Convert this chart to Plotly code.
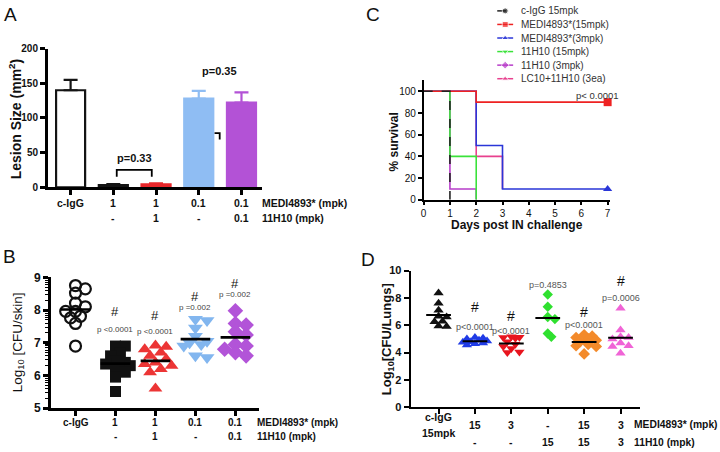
import plotly.graph_objects as go
import numpy as np

W, H = 720, 452
FONT = "Liberation Sans, Arial, sans-serif"

# ================= DATA =================
# ---- Panel A: lesion size (mean + SEM)
a_row1 = ["c-IgG", "1", "1", "0.1", "0.1"]
a_row2 = ["", "-", "1", "-", "0.1"]
a_lesion_mean = [140, 3, 4, 128, 122]
a_lesion_sem = [15, 1.5, 1.5, 11, 15]
a_p_left = "p=0.33"
a_p_right = "p=0.35"

# ---- Panel B: Log10 CFU/skin
b_row1 = ["c-IgG", "1", "1", "0.1", "0.1"]
b_row2 = ["", "-", "1", "-", "0.1"]
b_cigg = [8.75, 8.65, 8.52, 8.21, 8.10, 7.96, 7.96, 7.81, 7.76, 7.59, 6.90]
b_medi_1 = [6.90, 6.90, 6.70, 6.60, 6.45, 6.40, 6.35, 6.30, 6.20, 6.10, 5.95, 5.51]
b_combo_1 = [6.92, 6.88, 6.80, 6.70, 6.60, 6.50, 6.40, 6.35, 6.30, 6.20, 6.10, 5.60]
b_medi_01 = [7.72, 7.68, 7.45, 7.20, 7.05, 7.00, 6.95, 6.90, 6.60, 6.55]
b_combo_01 = [7.98, 7.59, 7.54, 7.34, 7.24, 6.95, 6.90, 6.80, 6.70, 6.60]
b_pvals = ["", "p <0.0001", "p <0.0001", "p =0.002", "p =0.002"]
b_hash = ["", "#", "#", "#", "#"]

# ---- Panel C: survival
c_names = ["c-IgG 15mpk", "MEDI4893*(15mpk)", "MEDI4893*(3mpk)",
           "11H10 (15mpk)", "11H10 (3mpk)", "LC10+11H10 (3ea)"]
c_igg_days, c_igg_surv = [0, 1], [100, 0]
c_medi15_days, c_medi15_surv = [0, 2, 7], [100, 90, 90]
c_medi3_days, c_medi3_surv = [0, 2, 3, 7], [100, 50, 10, 10]
c_h15_days, c_h15_surv = [0, 1, 2], [100, 40, 0]
c_h3_days, c_h3_surv = [0, 1, 2], [100, 10, 0]
c_lc_days, c_lc_surv = [0, 2, 3], [100, 40, 10]
c_pval = "p< 0.0001"

# ---- Panel D: Log10 CFU/lungs
d_row1 = ["c-IgG", "15", "3", "-", "15", "3"]
d_row2 = ["15mpk", "-", "-", "15", "15", "3"]
d_cigg = [8.35, 7.60, 7.10, 6.65, 6.60, 6.30, 6.25, 5.95, 5.90]
d_medi15 = [5.10, 5.05, 5.00, 4.90, 4.85, 4.80, 4.75, 4.70, 4.65, 4.55]
d_medi3 = [5.15, 5.12, 5.10, 5.05, 4.80, 4.60, 4.45, 4.30, 4.05, 4.00]
d_h15 = [8.25, 7.35, 6.60, 6.45, 5.40, 5.15]
d_combo15 = [5.30, 5.20, 5.10, 5.00, 4.90, 4.80, 4.60, 4.50, 4.45, 3.90]
d_combo3 = [7.25, 5.65, 5.15, 5.10, 5.00, 4.70, 4.50, 4.45, 3.95]
d_pvals = ["", "p<0.0001", "p<0.0001", "p=0.4853", "p<0.0001", "p=0.0006"]
d_hash = ["", "#", "#", "", "#", "#"]

# ================= STYLES / LAYOUT CONSTANTS =================
a_fill = ["white", "#141414", "#e8262a", "#8fbdf3", "#b352d6"]
a_edge = ["#141414", "#141414", "#e8262a", "#8fbdf3", "#b352d6"]

b_groups = [b_cigg, b_medi_1, b_combo_1, b_medi_01, b_combo_01]
b_sym = ["circle-open", "square", "triangle-up", "triangle-down", "diamond"]
b_col = ["#111111", "#111111", "#ec3535", "#82b6ef", "#b254d8"]
b_size = [11, 11, 12, 13, 12]
b_hash_y = [0, 7.96, 7.84, 8.41, 8.82]
b_p_y = [0, 7.40, 7.34, 8.08, 8.47]

c_series = [
    (c_lc_days, c_lc_surv, "#e8408e", "triangle-up"),
    (c_h3_days, c_h3_surv, "#b73cc9", "diamond"),
    (c_h15_days, c_h15_surv, "#3ae23a", "triangle-down"),
    (c_medi3_days, c_medi3_surv, "#2a36d8", "triangle-up"),
    (c_medi15_days, c_medi15_surv, "#ee2222", "square"),
    (c_igg_days, c_igg_surv, "#222222", "circle"),
]
c_leg_col = ["#222222", "#ee2222", "#2a36d8", "#3ae23a", "#b73cc9", "#e8408e"]
c_leg_sym = ["circle", "square", "triangle-up", "triangle-down", "diamond", "triangle-up"]

d_groups = [d_cigg, d_medi15, d_medi3, d_h15, d_combo15, d_combo3]
d_sym = ["triangle-up", "triangle-up", "triangle-down", "diamond", "diamond", "triangle-up"]
d_col = ["#111111", "#1f3be6", "#e8141e", "#2fe02f", "#f38a2a", "#f064d6"]
d_size = [9, 9, 9, 8, 9, 9]
d_hash_y = [0, 7.3, 6.7, 0, 6.95, 9.22]
d_p_y = [0, 5.9, 5.6, 8.96, 6.03, 8.01]


def xdom(p0, p1):
    return [p0 / W, p1 / W]


def ydom(top, bottom):
    return [1 - bottom / H, 1 - top / H]


def px(x):
    return x / W


def py(y):
    return 1 - y / H


def swarm(vals, sx, sy, diam, maxoff):
    """simple beeswarm offsets (in x data units), overlapping allowed"""
    placed, offs = [], []
    step = diam * 0.45
    cands = [0.0]
    i = 1
    while i * step <= maxoff:
        cands += [i * step, -i * step]
        i += 1
    for v in vals:
        y = v * sy
        best, bestd = 0.0, -1
        for c in cands:
            d = min([((c - a) ** 2 + (y - b) ** 2) ** 0.5 for a, b in placed] or [1e9])
            if d >= diam * 0.62:
                best = c
                break
            if d > bestd:
                best, bestd = c, d
        placed.append((best, y))
        offs.append(best / sx)
    return offs


fig = go.Figure()


def axstyle(lw, bold=True, size=10, ticklen=5):
    return dict(showline=True, linecolor="black", linewidth=lw, ticks="outside",
                tickcolor="black", tickwidth=lw, ticklen=ticklen, showgrid=False,
                zeroline=False, fixedrange=True,
                tickfont=dict(family=FONT, size=size, color="#111",
                              weight="bold" if bold else "normal"))


# ---------------- Panel A ----------------
for i, (m, s) in enumerate(zip(a_lesion_mean, a_lesion_sem)):
    fig.add_trace(go.Bar(
        x=[i], y=[m], width=0.68, xaxis="x", yaxis="y",
        marker=dict(color=a_fill[i], line=dict(color=a_edge[i], width=2.2)),
        error_y=dict(type="data", array=[s], arrayminus=[0], symmetric=False,
                     color=a_edge[i], thickness=2.2, width=7),
        showlegend=False, hoverinfo="skip"))

# ---------------- Panel B ----------------
B_SX, B_SY = 40.2, 33.75
for i, g in enumerate(b_groups):
    offs = swarm(g, B_SX, B_SY, b_size[i], 17)
    fig.add_trace(go.Scatter(
        x=[i + o for o in offs], y=g, mode="markers", xaxis="x2", yaxis="y2",
        marker=dict(symbol=b_sym[i], size=b_size[i], color=b_col[i],
                    line=dict(color=b_col[i], width=2.2 if i == 0 else 0)),
        cliponaxis=False, showlegend=False, hoverinfo="skip"))
for i, g in enumerate(b_groups):
    m = float(np.mean(g))
    fig.add_trace(go.Scatter(
        x=[i - 0.37, i + 0.37], y=[m, m], mode="lines", xaxis="x2", yaxis="y2",
        line=dict(color="black", width=2.6), showlegend=False, hoverinfo="skip"))

# ---------------- Panel C ----------------
for days, surv, col, sym in c_series:
    dash = "dash" if col == "#222222" else "solid"
    fig.add_trace(go.Scatter(
        x=days, y=surv, mode="lines", line=dict(color=col, width=1.6, shape="hv", dash=dash),
        xaxis="x3", yaxis="y3", cliponaxis=False, showlegend=False, hoverinfo="skip"))
for days, surv, col, sym in c_series:
    if days[-1] == 7:
        fig.add_trace(go.Scatter(
            x=[days[-1]], y=[surv[-1]], mode="markers",
            marker=dict(symbol=sym, size=8, color=col),
            xaxis="x3", yaxis="y3", cliponaxis=False, showlegend=False, hoverinfo="skip"))

# legend glyphs (pixel overlay axis)
LEG_X0, LEG_X1, LEG_Y0, LEG_DY = 497, 513, 4, 14
for k, name in enumerate(c_names):
    yy = LEG_Y0 + k * LEG_DY
    fig.add_trace(go.Scatter(
        x=[LEG_X0, (LEG_X0 + LEG_X1) / 2, LEG_X1], y=[yy] * 3, mode="lines+markers",
        line=dict(color=c_leg_col[k], width=1.5, dash="dash" if k == 0 else "solid"),
        marker=dict(symbol=c_leg_sym[k], size=[0, 6, 0], color=c_leg_col[k]),
        xaxis="x5", yaxis="y5", cliponaxis=False, showlegend=False, hoverinfo="skip"))

# ---------------- Panel D ----------------
D_SX, D_SY = 36.6, 14.1
for i, g in enumerate(d_groups):
    offs = swarm(g, D_SX, D_SY, d_size[i], 15)
    fig.add_trace(go.Scatter(
        x=[i + o for o in offs], y=g, mode="markers", xaxis="x4", yaxis="y4",
        marker=dict(symbol=d_sym[i], size=d_size[i], color=d_col[i]),
        cliponaxis=False, showlegend=False, hoverinfo="skip"))
for i, g in enumerate(d_groups):
    m = float(np.mean(g))
    fig.add_trace(go.Scatter(
        x=[i - 0.34, i + 0.34], y=[m, m], mode="lines", xaxis="x4", yaxis="y4",
        line=dict(color="black", width=2), showlegend=False, hoverinfo="skip"))

# ---------------- Annotations ----------------
ann = []


def txt(text, x, y, size, xref="paper", yref="paper", bold=False, color="#111",
        xanchor="center", yanchor="middle", angle=0, family=FONT):
    ann.append(dict(text=text, x=x, y=y, xref=xref, yref=yref, showarrow=False,
                    xanchor=xanchor, yanchor=yanchor, textangle=angle,
                    font=dict(family=family, size=size, color=color,
                              weight="bold" if bold else "normal")))


# panel letters
txt("A", px(8), py(8), 19)
txt("B", px(7), py(257), 19)
txt("C", px(372), py(8), 19)
txt("D", px(367), py(261), 19)

# A
for i in range(5):
    txt(a_row1[i], i, py(202), 10.5, xref="x", bold=True)
    if a_row2[i]:
        txt(a_row2[i], i, py(218), 10.5, xref="x", bold=True)
txt("MEDI4893* (mpk)", px(258), py(202), 10.5, bold=True, xanchor="left")
txt("11H10 (mpk)", px(258), py(218), 10.5, bold=True, xanchor="left")
txt("Lesion Size (mm<sup>2</sup>)", px(13), py(115), 14, bold=True, angle=-90)
txt(a_p_left, 1.5, 42, 11, xref="x", yref="y", bold=True)
txt(a_p_right, 3.49, 168, 11, xref="x", yref="y", bold=True)

# B
for i in range(5):
    txt(b_row1[i], i, py(429), 10, xref="x2", bold=True)
    if b_row2[i]:
        txt(b_row2[i], i, py(443), 10, xref="x2", bold=True)
    if b_hash[i]:
        txt(b_hash[i], i, b_hash_y[i], 13, xref="x2", yref="y2")
        txt(b_pvals[i], i, b_p_y[i], 8, xref="x2", yref="y2", color="#444")
txt("MEDI4893* (mpk)", px(253), py(429), 10, bold=True, xanchor="left")
txt("11H10 (mpk)", px(253), py(443), 10, bold=True, xanchor="left")
txt("Log<sub>10</sub> [CFU/skin]", px(15), py(346), 13.5, angle=-90)

# C
for k, name in enumerate(c_names):
    txt(name, px(LEG_X1 + 6), py(LEG_Y0 + k * LEG_DY), 10, xanchor="left", color="#333")
txt(c_pval, 6.62, 96.5, 9.5, xref="x3", yref="y3", color="#333")
txt("% survival", px(393), py(139), 12, bold=True, angle=-90)
txt("Days post IN challenge", px(517), py(225), 12, bold=True)

# D
for i in range(6):
    if i == 0:
        txt(d_row1[i], i, py(423), 10.5, xref="x4", bold=True)
        txt(d_row2[i], i, py(440), 10.5, xref="x4", bold=True)
    else:
        txt(d_row1[i], i, py(431), 10.5, xref="x4", bold=True)
        txt(d_row2[i], i, py(449), 10.5, xref="x4", bold=True)
    if d_hash[i]:
        txt(d_hash[i], i, d_hash_y[i], 14, xref="x4", yref="y4")
    if d_pvals[i]:
        txt(d_pvals[i], i, d_p_y[i], 9, xref="x4", yref="y4", color="#555")
txt("MEDI4893* (mpk)", px(633), py(431), 10.3, bold=True, xanchor="left")
txt("11H10 (mpk)", px(633), py(449), 10.3, bold=True, xanchor="left")
txt("Log<sub>10</sub>[CFU/Lungs]", px(387), py(343), 13, bold=True, angle=-90)

# brackets in panel A
shapes = [
    dict(type="path", xref="x", yref="y", path="M 1.08,15 L 1.08,25 L 1.9,25 L 1.9,15",
         line=dict(color="black", width=1.8)),
    dict(type="path", xref="x", yref="y", path="M 3.37,78 L 3.49,78 L 3.49,69",
         line=dict(color="black", width=1.8)),
]

# minor log ticks for B
b_minor = [k + np.log10(m) for k in range(5, 9) for m in range(2, 10)]

fig.update_layout(
    width=W, height=H, margin=dict(l=0, r=0, t=0, b=0),
    paper_bgcolor="white", plot_bgcolor="rgba(0,0,0,0)",
    barmode="overlay", showlegend=False,
    annotations=ann, shapes=shapes,
    xaxis=dict(domain=xdom(45, 260), range=[-0.535, 4.47], anchor="y",
               tickvals=list(range(5)), showticklabels=False, **axstyle(2.5)),
    yaxis=dict(domain=ydom(43, 186), range=[0, 200], anchor="x",
               tickvals=[0, 50, 100, 150, 200], **axstyle(2.5)),
    xaxis2=dict(domain=xdom(48, 257), range=[-0.62, 4.58], anchor="y2",
                tickvals=list(range(5)), showticklabels=False, **axstyle(2.5)),
    yaxis2=dict(domain=ydom(279, 414), range=[5, 9], anchor="x2",
                tickvals=[5, 6, 7, 8, 9],
                minor=dict(tickmode="array", tickvals=b_minor, ticks="outside", ticklen=3,
                           tickcolor="black", tickwidth=1.2),
                **axstyle(2.5, size=12)),
    xaxis3=dict(domain=xdom(423, 423 + 7.08 * 26.43), range=[0, 7.08], anchor="y3",
                tickvals=list(range(8)), **axstyle(1.5, bold=False, size=10, ticklen=3)),
    yaxis3=dict(domain=ydom(199 - 110 * 1.12, 199), range=[0, 110], anchor="x3",
                tickvals=[0, 20, 40, 60, 80, 100], **axstyle(1.5, bold=False, size=10, ticklen=4)),
    xaxis4=dict(domain=xdom(410, 641), range=[-0.765, 5.547], anchor="y4",
                tickvals=list(range(6)), showticklabels=False, **axstyle(2.2)),
    yaxis4=dict(domain=ydom(272, 413), range=[0, 10], anchor="x4",
                tickvals=[0, 2, 4, 6, 8, 10], **axstyle(2.2, size=11)),
    xaxis5=dict(domain=[0, 1], range=[0, W], anchor="y5", visible=False, fixedrange=True),
    yaxis5=dict(domain=[0, 1], range=[H, 0], anchor="x5", visible=False, fixedrange=True),
)

fig.write_html("out.html", config={"displayModeBar": False},
               post_script="document.body.style.margin='0';document.body.style.padding='0';")
